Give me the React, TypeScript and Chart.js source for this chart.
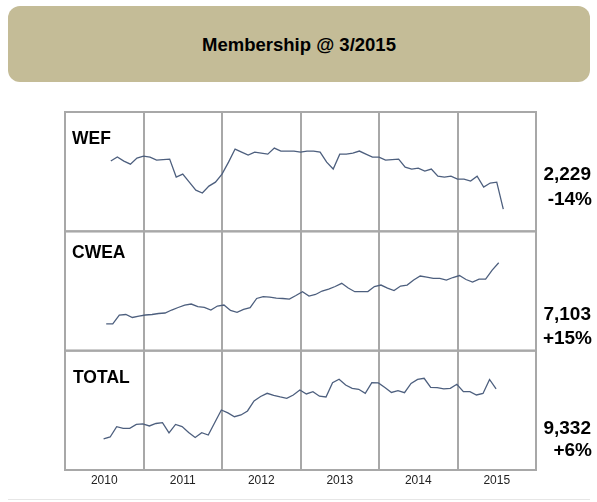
import React, { useEffect, useRef } from 'react';
import { Chart, registerables } from 'chart.js';

Chart.register(...registerables);

// ---------- data ----------
const yearLabels = ['2010', '2011', '2012', '2013', '2014', '2015'];
const panelNames = ['WEF', 'CWEA', 'TOTAL'];
const panelTotals = ['2,229', '7,103', '9,332'];
const panelChanges = ['-14%', '+15%', '+6%'];

// month index (0 = Jan 2010) of the first point of each series
const wefStartMonth = 7;
const cweaStartMonth = 6.3;
const totalStartMonth = 5.9;

const wefValues = [
  2589, 2619, 2589, 2566, 2612, 2626, 2619, 2596, 2600, 2604,
  2469, 2491, 2431, 2371, 2349, 2401, 2431, 2491, 2581, 2679,
  2656, 2634, 2656, 2649, 2641, 2686, 2664, 2664, 2664, 2656,
  2664, 2664, 2656, 2581, 2529, 2641, 2641, 2649, 2664, 2641,
  2619, 2619, 2596, 2600, 2604, 2544, 2529, 2536, 2514, 2529,
  2476, 2469, 2476, 2454, 2454, 2439, 2476, 2394, 2424, 2431,
  2229,
];

const cweaValues = [
  6184, 6184, 6318, 6326, 6281, 6303, 6318, 6326, 6341, 6348,
  6393, 6431, 6468, 6483, 6443, 6434, 6393, 6453, 6468, 6386,
  6359, 6401, 6428, 6566, 6593, 6588, 6573, 6566, 6558, 6611,
  6668, 6603, 6626, 6678, 6708, 6746, 6794, 6723, 6668, 6668,
  6671, 6746, 6768, 6723, 6686, 6753, 6768, 6843, 6903, 6888,
  6869, 6869, 6843, 6881, 6911, 6851, 6813, 6858, 6858, 6993,
  7103,
];

const totalValues = [
  8802, 8823, 8932, 8915, 8915, 8956, 8961, 8940, 8966, 8975,
  8866, 8956, 8934, 8871, 8818, 8868, 8844, 8977, 9109, 9078,
  9038, 9056, 9099, 9205, 9252, 9286, 9263, 9247, 9233, 9268,
  9321, 9279, 9303, 9255, 9247, 9399, 9435, 9374, 9339, 9329,
  9286, 9399, 9396, 9348, 9295, 9314, 9293, 9390, 9433, 9445,
  9348, 9346, 9332, 9339, 9382, 9303, 9303, 9268, 9284, 9433,
  9332,
];

// axis ranges per panel
const wefRange = [2062, 2957];
const cweaRange = [5783, 7574];
const totalRange = [8473, 9738];

// ---------- styles / layout ----------
const GRID = '#a8a8a8';
const LINE = '#4d5f7e';
const FONT = '"Liberation Sans", Arial, sans-serif';
const panelAxisIds = ['yW', 'yC', 'yT'];
const labelDx = [7, 7, 8];
const labelDy = [27, 22, 28];
const valueDy = [63, 83, 78];
const changeDy = [88, 107, 100];
const valueRight = 591;

const toPoints = (start: number, values: number[]) =>
  values.map((v, i) => ({ x: start + i, y: v }));

const panelPlugin = {
  id: 'panelFrames',
  beforeDatasetsDraw(chart: any) {
    const ctx = chart.ctx;
    const { left, right } = chart.chartArea;
    ctx.save();
    ctx.strokeStyle = GRID;
    ctx.lineWidth = 2;
    panelAxisIds.forEach((id) => {
      const s = chart.scales[id];
      ctx.strokeRect(left, s.top, right - left, s.bottom - s.top);
    });
    ctx.restore();
  },
  afterDraw(chart: any) {
    const ctx = chart.ctx;
    const { left } = chart.chartArea;
    ctx.save();
    ctx.fillStyle = '#000';
    ctx.textBaseline = 'middle';
    panelAxisIds.forEach((id, i) => {
      const s = chart.scales[id];
      ctx.font = `bold 17.5px ${FONT}`;
      ctx.textAlign = 'left';
      ctx.fillText(panelNames[i], left + labelDx[i], s.top + labelDy[i]);
      ctx.font = `bold 19px ${FONT}`;
      ctx.textAlign = 'right';
      ctx.fillText(panelTotals[i], valueRight, s.top + valueDy[i]);
      ctx.fillText(panelChanges[i], valueRight + 1, s.top + changeDy[i]);
    });
    ctx.restore();
  },
};

export default function App() {
  const canvasRef = useRef<HTMLCanvasElement | null>(null);

  useEffect(() => {
    if (!canvasRef.current) return;
    const yAxis = (range: number[]) => ({
      type: 'linear' as const,
      display: false,
      stack: 'panels',
      stackWeight: 1,
      min: range[0],
      max: range[1],
    });
    const ds = (label: string, start: number, values: number[], axis: string) => ({
      label,
      data: toPoints(start, values),
      yAxisID: axis,
      borderColor: LINE,
      borderWidth: 1.3,
      pointRadius: 0,
      tension: 0,
      fill: false,
    });
    const chart = new Chart(canvasRef.current, {
      type: 'line',
      data: {
        datasets: [
          ds('WEF', wefStartMonth, wefValues, 'yW'),
          ds('CWEA', cweaStartMonth, cweaValues, 'yC'),
          ds('TOTAL', totalStartMonth, totalValues, 'yT'),
        ],
      },
      options: {
        responsive: false,
        animation: false,
        devicePixelRatio: 1,
        layout: { padding: { left: 65, right: 61, top: 112, bottom: 12 } },
        plugins: { legend: { display: false }, tooltip: { enabled: false } },
        scales: {
          x: {
            type: 'linear',
            min: 0,
            max: 72,
            border: { display: false },
            grid: {
              drawTicks: false,
              lineWidth: 2,
              color: (c: any) => (c.tick && c.tick.value % 12 === 0 ? GRID : 'rgba(0,0,0,0)'),
            },
            ticks: {
              stepSize: 6,
              autoSkip: false,
              maxRotation: 0,
              padding: 3,
              color: '#222',
              font: { family: FONT, size: 12 },
              callback: (v: any) => {
                const n = Number(v);
                return n % 12 === 6 ? yearLabels[(n - 6) / 12] : '';
              },
            },
            afterFit: (s: any) => {
              s.height = 20;
            },
          },
          // stacked axes are placed bottom-up: the last one ends on top
          yT: yAxis(totalRange),
          yC: yAxis(cweaRange),
          yW: yAxis(wefRange),
        },
      },
      plugins: [panelPlugin],
    } as any);
    return () => chart.destroy();
  }, []);

  return (
    <div style={{ position: 'absolute', left: 0, top: 0, width: 597, height: 502, background: '#fff', overflow: 'hidden' }}>
      <div
        style={{
          position: 'absolute',
          left: 8,
          top: 6,
          width: 582,
          height: 76,
          borderRadius: 12,
          background: '#c4bc97',
          display: 'flex',
          alignItems: 'center',
          justifyContent: 'center',
          fontFamily: FONT,
          fontWeight: 'bold',
          fontSize: 18.5,
          color: '#000',
          paddingTop: 2,
          boxSizing: 'border-box',
        }}
      >
        Membership @ 3/2015
      </div>
      <canvas ref={canvasRef} width={597} height={502} style={{ position: 'absolute', left: 0, top: 0 }} />
      <div style={{ position: 'absolute', left: 8, top: 499, width: 582, height: 1, background: '#e6e6e6' }} />
    </div>
  );
}
